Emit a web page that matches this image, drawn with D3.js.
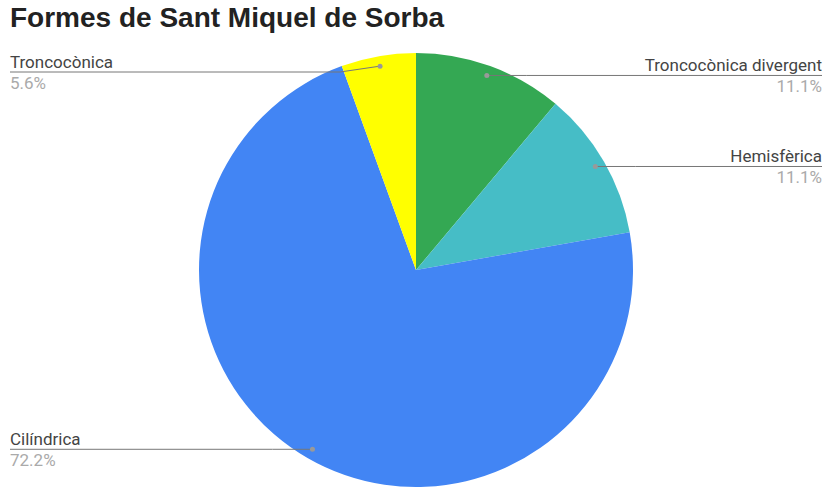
<!DOCTYPE html>
<html><head><meta charset="utf-8">
<script src="https://cdn.jsdelivr.net/npm/d3@7"></script>
<style>body{margin:0;background:#fff}</style>
</head><body>
<svg id="c" width="825" height="490"></svg>
<script>
const categories = ["Troncocònica divergent", "Hemisfèrica", "Cilíndrica", "Troncocònica"];
const values = [2, 2, 13, 1];
const colors = ["#34a853", "#46bdc6", "#4285f4", "#ffff00"];
const title = "Formes de Sant Miquel de Sorba";

const W = 825, H = 490;
const cx = 416, cy = 270, R = 217;
const svg = d3.select("#c");

svg.append("text").attr("x", 10).attr("y", 27)
  .attr("font-family", "Liberation Sans, Arial, sans-serif")
  .attr("font-weight", "bold").attr("font-size", 28).attr("fill", "#222")
  .text(title);

const total = d3.sum(values);
const pie = d3.pie().sort(null).value(d => d)(values);
const arc = d3.arc().innerRadius(0).outerRadius(R);
const g = svg.append("g").attr("transform", `translate(${cx},${cy})`);
g.selectAll("path").data(pie).join("path")
  .attr("d", arc).attr("fill", (d, i) => colors[i]);

const dotArc = d3.arc().innerRadius(R * 0.954).outerRadius(R * 0.954);
const fmt = v => (v / total * 100).toFixed(1) + "%";
const lg = svg.append("g");
pie.forEach((d, i) => {
  const [dx, dy] = dotArc.centroid(d);
  const px = cx + dx, py = cy + dy;
  const right = dx > 0;
  const ly = Math.max(py, 72);
  const lx = right ? 822 : 10;
  lg.append("polyline")
    .attr("points", `${lx},${ly} ${right ? px + 40 : px - 40},${ly} ${px},${py}`)
    .attr("fill", "none").attr("stroke", "#777").attr("stroke-width", 1);
  lg.append("circle").attr("cx", px).attr("cy", py).attr("r", 2.5).attr("fill", "#999");
  lg.append("text").attr("x", lx).attr("y", ly - 4.5)
    .attr("text-anchor", right ? "end" : "start")
    .attr("font-family", "Roboto, Arial, sans-serif").attr("font-size", 17).attr("fill", "#444")
    .text(categories[i]);
  lg.append("text").attr("x", lx).attr("y", ly + 17)
    .attr("text-anchor", right ? "end" : "start")
    .attr("font-family", "Roboto, Arial, sans-serif").attr("font-size", 17).attr("fill", "#aaa")
    .text(fmt(values[i]));
});
</script>
</body></html>
